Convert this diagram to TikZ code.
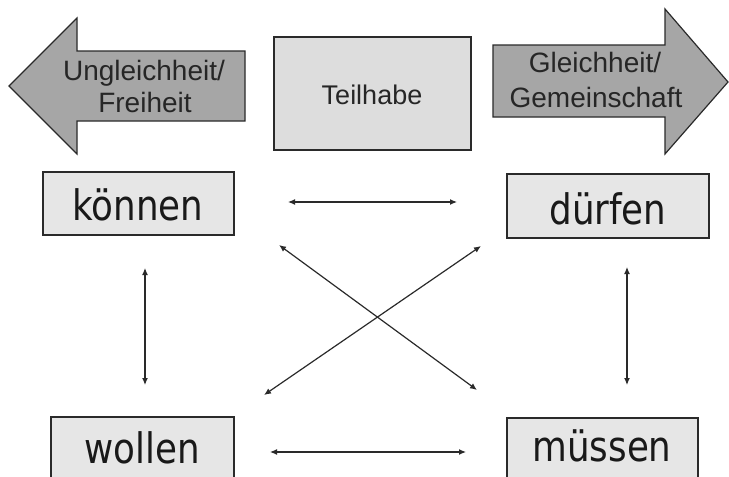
\documentclass[tikz,border=0pt]{standalone}
\usepackage{fontspec}
\setmainfont{Liberation Sans}
\newfontfamily\wordfont{DejaVu Sans}[FakeStretch=0.85]
\usetikzlibrary{arrows.meta}
\definecolor{arrowgray}{HTML}{A6A6A6}
\definecolor{boxgray}{HTML}{DDDDDD}
\definecolor{wordgray}{HTML}{E6E6E6}
\definecolor{linegray}{HTML}{2A2A2A}
\begin{document}
\begin{tikzpicture}[x=1pt,y=-1pt,
  bigarrow/.style={draw=linegray, line width=1.2pt, fill=arrowgray, line join=miter},
  toplabel/.style={font=\fontsize{28}{32}\selectfont, text=black!85, align=center, inner sep=0pt},
  wordbox/.style={draw=linegray, line width=1.3pt, fill=wordgray, inner sep=0pt},
  wordtext/.style={font=\wordfont\fontsize{42}{48}\selectfont, text=black!90, inner sep=0pt},
  link/.style={draw=linegray, line width=1.2pt, {Latex[length=7pt,width=6pt]}-{Latex[length=7pt,width=6pt]}}
]
\useasboundingbox (0,0) rectangle (729,477);
\clip (0,0) rectangle (729,477);

% left arrow
\draw[bigarrow] (9,86) -- (77,18) -- (77,51) -- (245,51) -- (245,121) -- (77,121) -- (77,154) -- cycle;
\node[toplabel, anchor=base] (ung) at (144,80) {Ungleichheit/};
\node[toplabel, anchor=base] (frei) at (145,112) {Freiheit};

% right arrow
\draw[bigarrow] (728,82) -- (665,9) -- (665,45) -- (493,45) -- (493,117) -- (665,117) -- (665,154) -- cycle;
\node[toplabel, anchor=base] (gleich) at (595,72) {Gleichheit/};
\node[toplabel, anchor=base] (gemein) at (596,107) {Gemeinschaft};

% Teilhabe
\node[draw=linegray, line width=1.3pt, fill=boxgray, minimum width=197pt, minimum height=113pt, inner sep=0pt] (teil) at (372.5,93.5) {};
\node[font=\fontsize{27}{30}\selectfont, text=black!85, anchor=base, inner sep=0pt] (teiltext) at (372,104) {Teilhabe};

% word boxes
\node[wordbox, minimum width=191pt, minimum height=63pt] (koennen) at (138.5,203.5) {};
\node[wordtext, anchor=base] (koennenT) at (138,220) {können};
\node[wordbox, minimum width=202pt, minimum height=64pt] (duerfen) at (608,206) {};
\node[wordtext, anchor=base] (duerfenT) at (608,224) {dürfen};
\node[wordbox, minimum width=183pt, minimum height=90pt] (wollen) at (142.5,462) {};
\node[wordtext, anchor=base] (wollenT) at (142,463) {wollen};
\node[wordbox, minimum width=191pt, minimum height=90pt] (muessen) at (602.5,463) {};
\node[wordtext, anchor=base] (muessenT) at (602,461) {müssen};

% connector ends
\coordinate (h1a) at (288,202);
\coordinate (h1b) at (457,202);
\coordinate (h2a) at (270,452);
\coordinate (h2b) at (466,452);
\coordinate (v1a) at (145,268);
\coordinate (v1b) at (145,385);
\coordinate (v2a) at (627,267);
\coordinate (v2b) at (627,385);
\coordinate (d1a) at (279,245);
\coordinate (d1b) at (477,390);
\coordinate (d2a) at (481,246);
\coordinate (d2b) at (264,395);

\draw[link] (h1a) -- (h1b);
\draw[link] (h2a) -- (h2b);
\draw[link] (v1a) -- (v1b);
\draw[link] (v2a) -- (v2b);
\draw[link] (d1a) -- (d1b);
\draw[link] (d2a) -- (d2b);
\end{tikzpicture}
\end{document}
